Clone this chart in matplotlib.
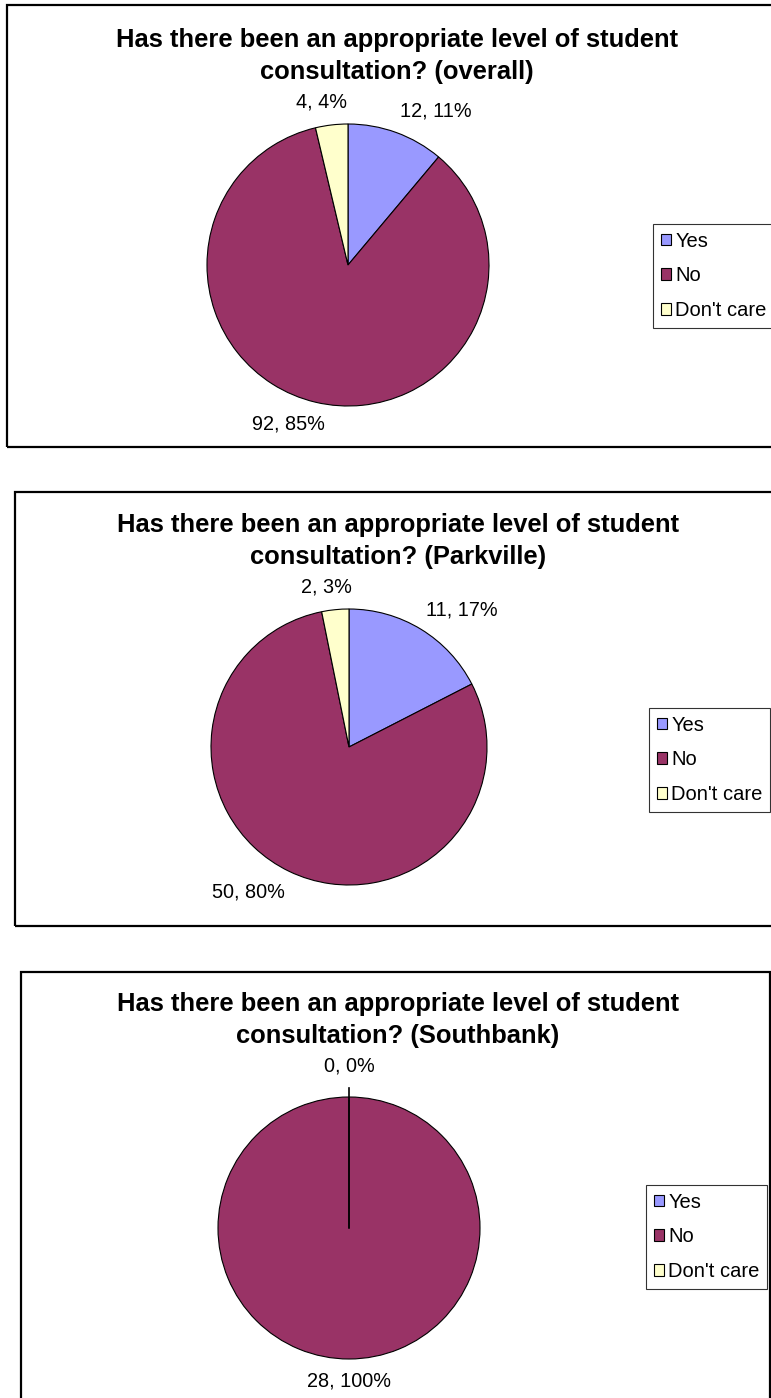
import numpy as np
import matplotlib.pyplot as plt
from matplotlib.patches import Rectangle, Patch

plt.rcParams['font.family'] = ['Liberation Sans', 'DejaVu Sans']

categories = ["Yes", "No", "Don't care"]
colors = ["#9999FF", "#993366", "#FFFFCC"]

overall_counts = [12, 92, 4]
overall_pcts = [11, 85, 4]
parkville_counts = [11, 50, 2]
parkville_pcts = [17, 80, 3]
southbank_counts = [0, 28, 0]
southbank_pcts = [0, 100, 0]

titles = [
    "Has there been an appropriate level of student\nconsultation? (overall)",
    "Has there been an appropriate level of student\nconsultation? (Parkville)",
    "Has there been an appropriate level of student\nconsultation? (Southbank)",
]

W, H = 771, 1398
fig = plt.figure(figsize=(W / 100, H / 100), dpi=100)
renderer = fig.canvas.get_renderer()


def fx(x):
    return x / W


def fy(y):
    return 1 - y / H


def border(x0, y0, x1, y1):
    fig.add_artist(Rectangle((fx(x0), fy(y1)), fx(x1) - fx(x0), fy(y0) - fy(y1),
                             transform=fig.transFigure, fill=False,
                             edgecolor="black", linewidth=1.6))


def draw_panel(counts, pcts, title, cx, cy, r, title_y, legend_xy):
    size = 2 * r * 1.4
    ax = fig.add_axes([fx(cx - size / 2), fy(cy + size / 2), size / W, size / H])
    rr = 1 / 1.4
    wedges, _ = ax.pie(counts, colors=colors, startangle=90, counterclock=False,
                       radius=rr,
                       wedgeprops=dict(edgecolor="black", linewidth=0.8))
    ax.set_xlim(-1, 1)
    ax.set_ylim(-1, 1)
    ax.set_aspect("equal")
    ax.axis("off")
    done = set()
    for w, c, p in zip(wedges, counts, pcts):
        txt = f"{c}, {p}%"
        if txt in done:
            continue
        done.add(txt)
        ang = np.deg2rad((w.theta1 + w.theta2) / 2)
        px, py = 1.07 * rr * np.cos(ang), 1.07 * rr * np.sin(ang)
        t = ax.annotate(txt, (px, py), xytext=(0, 0), textcoords="offset points",
                        ha="center", va="center", fontsize=14.3)
        half_w = t.get_window_extent(renderer).width / 2
        half_h = 13 + (9 if c == 0 else 0)
        dx = half_w * np.clip(3 * np.cos(ang), -1, 1)
        dy = half_h * np.sin(ang)
        t.set_position((dx * 0.72, dy * 0.72))
        if c == 0:
            # leader line for the empty slices
            ax.plot([0, 0], [0, 1.07 * rr], color="black", linewidth=1.2)
    fig.text(fx(cx + 49), fy(title_y), title, ha="center", va="center",
             fontsize=18.4, fontweight="bold", linespacing=1.45)
    handles = [Patch(facecolor=col, edgecolor="black", linewidth=0.8) for col in colors]
    leg = fig.legend(handles, categories, loc="upper left",
                     bbox_to_anchor=(fx(legend_xy[0]), fy(legend_xy[1])),
                     frameon=True, fancybox=False, fontsize=14.5,
                     handlelength=0.5, handleheight=0.5, handletextpad=0.22,
                     labelspacing=0.78, borderpad=0.38, borderaxespad=0)
    leg.get_frame().set_edgecolor("black")
    leg.get_frame().set_linewidth(0.8)


border(7, 5, 790, 447)
border(15, 492, 790, 926)
border(21, 972, 770, 1410)

draw_panel(overall_counts, overall_pcts, titles[0], 348, 265, 141, 56, (653, 224))
draw_panel(parkville_counts, parkville_pcts, titles[1], 349, 747, 138, 541, (649, 708))
draw_panel(southbank_counts, southbank_pcts, titles[2], 349, 1228, 131, 1020, (646, 1185))

fig.savefig("out.png", dpi=100, facecolor="white")
